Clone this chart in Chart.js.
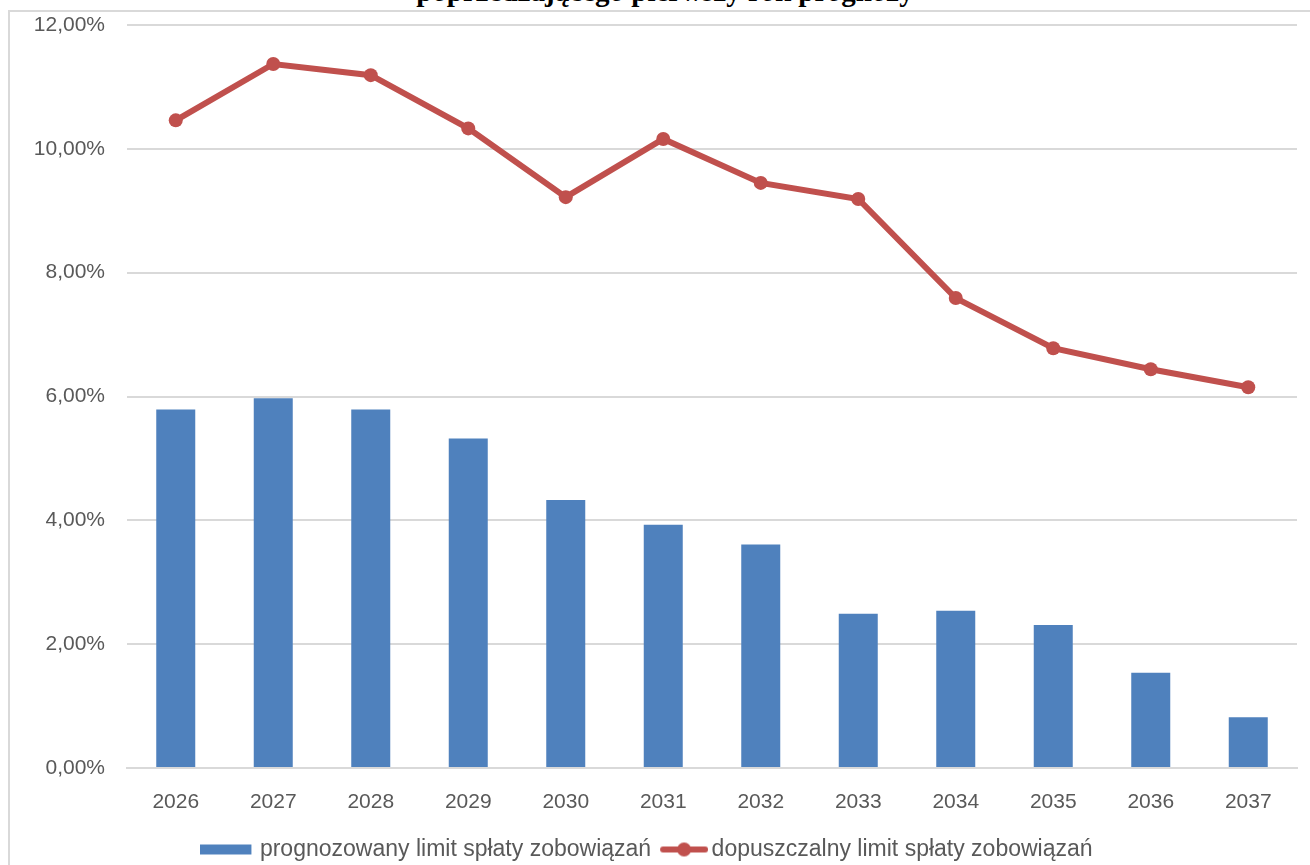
<!DOCTYPE html>
<html>
<head>
<meta charset="utf-8">
<script src="https://cdn.jsdelivr.net/npm/chart.js@4/dist/chart.umd.min.js"></script>
<style>
    html, body { margin: 0; padding: 0; background: #fff; overflow: hidden; }
    #page { position: relative; width: 1310px; height: 865px; }
    #frame {
        position: absolute; left: 8px; top: 10px; width: 1310px; height: 870px;
        border-left: 2px solid #d9d9d9; border-top: 2px solid #d9d9d9;
    }
    #title {
        position: absolute; left: 0; width: 1330px; top: -23px; text-align: center;
        font: bold 29px/29px "Liberation Serif", "Times New Roman", serif; color: #000;
        white-space: nowrap;
    }
    #chart { position: absolute; left: 0; top: 0; }
</style>
</head>
<body>
<div id="page">
    <div id="title">poprzedzającego pierwszy rok prognozy</div>
    <div id="frame"></div>
    <canvas id="chart" width="1310" height="865"></canvas>
</div>
<script>
// Chart data (values in %)
const years = ['2026', '2027', '2028', '2029', '2030', '2031', '2032', '2033', '2034', '2035', '2036', '2037'];
const forecastLimit = [5.79, 5.97, 5.79, 5.32, 4.33, 3.93, 3.61, 2.49, 2.54, 2.31, 1.54, 0.82];
const allowedLimit = [10.46, 11.37, 11.19, 10.33, 9.22, 10.16, 9.45, 9.19, 7.59, 6.78, 6.44, 6.15];
const yTicks = [0, 2, 4, 6, 8, 10, 12];

const seriesNames = ['prognozowany limit spłaty zobowiązań', 'dopuszczalny limit spłaty zobowiązań'];
const blue = '#4f81bd';
const red = '#c0504d';
const grey = '#595959';
const gridColor = '#d9d9d9';

// Legend symbols drawn on small canvases
function makeBarSymbol() {
    const c = document.createElement('canvas');
    c.width = 52; c.height = 12;
    const ctx = c.getContext('2d');
    ctx.fillStyle = blue;
    ctx.fillRect(0, 1, 51, 10);
    return c;
}

function makeLineSymbol() {
    const c = document.createElement('canvas');
    c.width = 60; c.height = 16;
    const ctx = c.getContext('2d');
    ctx.strokeStyle = red;
    ctx.lineWidth = 6;
    ctx.lineCap = 'round';
    ctx.beginPath();
    ctx.moveTo(15, 8);
    ctx.lineTo(57, 8);
    ctx.stroke();
    ctx.fillStyle = red;
    ctx.beginPath();
    ctx.arc(36, 8, 7, 0, Math.PI * 2);
    ctx.fill();
    return c;
}

const symbols = [makeBarSymbol(), makeLineSymbol()];

const ctx = document.getElementById('chart').getContext('2d');
new Chart(ctx, {
    type: 'bar',
    data: {
        labels: years,
        datasets: [{
            type: 'bar',
            label: seriesNames[0],
            data: forecastLimit,
            backgroundColor: blue,
            borderWidth: 0,
            categoryPercentage: 1,
            barPercentage: 0.4,
            order: 2
        }, {
            type: 'line',
            label: seriesNames[1],
            data: allowedLimit,
            borderColor: red,
            backgroundColor: red,
            borderWidth: 6,
            pointRadius: 7,
            pointBackgroundColor: red,
            pointBorderWidth: 0,
            tension: 0,
            order: 1
        }]
    },
    options: {
        responsive: false,
        animation: false,
        layout: { padding: { left: 0, right: 13, top: 25, bottom: -6 } },
        plugins: {
            tooltip: { enabled: false },
            legend: {
                position: 'bottom',
                labels: {
                    color: grey,
                    font: { family: 'Liberation Sans', size: 23 },
                    usePointStyle: true,
                    pointStyleWidth: 44,
                    boxHeight: 14,
                    padding: 5,
                    generateLabels: chart => chart.data.datasets.map((ds, i) => ({
                        text: ds.label,
                        fontColor: grey,
                        pointStyle: symbols[i],
                        lineWidth: 0,
                        datasetIndex: i
                    }))
                }
            }
        },
        scales: {
            x: {
                grid: { display: false },
                border: { display: true, color: gridColor, width: 2 },
                ticks: {
                    color: grey,
                    font: { family: 'Liberation Sans', size: 21 },
                    padding: 14
                },
                afterFit: scale => { scale.height = 65; }
            },
            y: {
                min: 0,
                max: 12,
                afterBuildTicks: scale => { scale.ticks = yTicks.map(v => ({ value: v })); },
                grid: { color: gridColor, lineWidth: 2, drawTicks: true, tickLength: 22, tickColor: 'transparent' },
                border: { display: false },
                ticks: {
                    color: grey,
                    font: { family: 'Liberation Sans', size: 21 },
                    padding: 0,
                    callback: v => v.toFixed(2).replace('.', ',') + '%'
                },
                afterFit: scale => { scale.width = 127; }
            }
        }
    }
});
</script>
</body>
</html>
